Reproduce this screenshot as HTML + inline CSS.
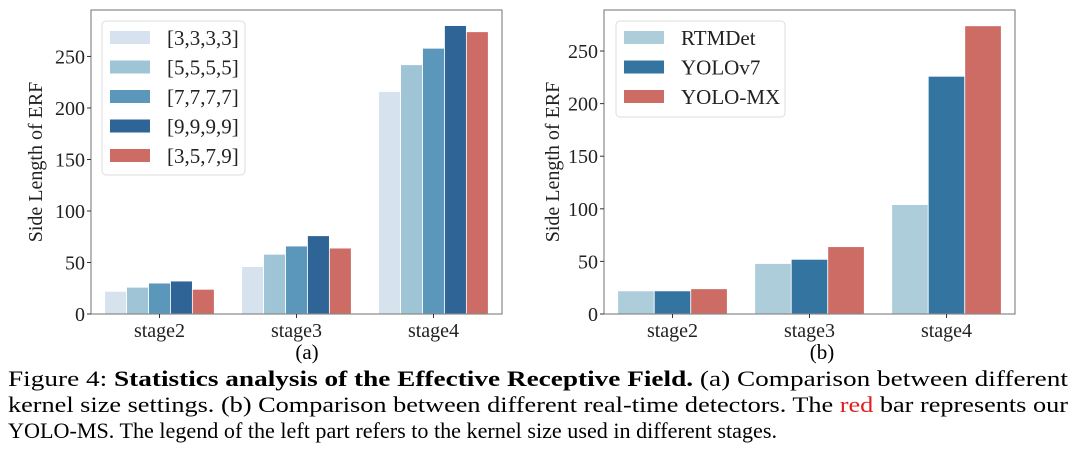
<!DOCTYPE html>
<html><head><meta charset="utf-8">
<style>
html,body{margin:0;padding:0;background:#fff;}
svg{display:block;font-family:"Liberation Serif","Times New Roman",serif;}
</style></head>
<body>
<svg id="fig" width="1080" height="460" viewBox="0 0 1080 460">
<g id="chartA"></g>
<g id="chartB"></g>
<text x="307" y="359" font-size="21" text-anchor="middle">(a)</text>
<text x="822" y="359" font-size="21" text-anchor="middle">(b)</text>
<text x="8" y="386" font-size="22" textLength="1060" lengthAdjust="spacingAndGlyphs">Figure 4:  <tspan font-weight="bold">Statistics analysis of the Effective Receptive Field.</tspan> (a) Comparison between different</text>
<text x="8" y="412" font-size="22" textLength="1060" lengthAdjust="spacingAndGlyphs">kernel size settings. (b) Comparison between different real-time detectors. The <tspan fill="#e02020">red</tspan> bar represents our</text>
<text x="8" y="438" font-size="22" textLength="769" lengthAdjust="spacingAndGlyphs">YOLO-MS. The legend of the left part refers to the kernel size used in different stages.</text>
</svg>
<script>
const categories = ["stage2","stage3","stage4"];
const seriesNamesA = ["[3,3,3,3]","[5,5,5,5]","[7,7,7,7]","[9,9,9,9]","[3,5,7,9]"];
const s333 = [22,46,216];
const s555 = [26,58,242];
const s777 = [30,66,258];
const s999 = [32,76,280];
const s3579 = [24,64,274];
const seriesNamesB = ["RTMDet","YOLOv7","YOLO-MX"];
const rtmdet = [22,48,104];
const yolov7 = [22,52,226];
const yolomx = [24,64,274];
const yTicks = [0,50,100,150,200,250];

const NS="http://www.w3.org/2000/svg";
function mk(tag,attrs,parent){const e=document.createElementNS(NS,tag);for(const k in attrs)e.setAttribute(k,attrs[k]);parent.appendChild(e);return e;}

function drawChart(g, cfg){
  const {x0,x1,y0,y1,ymax,series,colors,names,legend,ylabX,key}=cfg;
  const yS=v=>y1-(v/ymax)*(y1-y0);
  const bw=(x1-x0)/categories.length;
  const xS=i=>x0+bw*(i+0.5);
  const n=series.length, barW=bw*0.8/n;
  series.forEach((vals,si)=>{
    vals.forEach((v,ci)=>{
      const r=mk('rect',{x:xS(ci)-bw*0.4+si*barW,y:yS(v),width:barW,height:y1-yS(v),fill:colors[si],stroke:'#fff','stroke-width':0.8},g);
      
      
    });
  });
  const frame=mk('rect',{x:x0,y:y0,width:x1-x0,height:y1-y0,fill:'none',stroke:'#888','stroke-width':1.2},g);
  
  
  yTicks.forEach(t=>{
    mk('line',{x1:x0-4,x2:x0,y1:yS(t),y2:yS(t),stroke:'#333'},g);
    const tx=mk('text',{x:x0-6,y:yS(t)+7,'font-size':20,'text-anchor':'end',fill:'#222'},g);
    tx.textContent=t;
    
    
  });
  categories.forEach((c,i)=>{
    mk('line',{x1:xS(i),x2:xS(i),y1:y1,y2:y1+4,stroke:'#333'},g);
    const tx=mk('text',{x:xS(i),y:y1+23,'font-size':20,'text-anchor':'middle',fill:'#222'},g);
    tx.textContent=c;
    
    
  });
  const yl=mk('text',{x:ylabX,y:(y0+y1)/2,'font-size':20,'text-anchor':'middle',fill:'#222',transform:`rotate(-90 ${ylabX} ${(y0+y1)/2})`},g);
  yl.textContent='Side Length of ERF';
  
  
  const lg=mk('g',{},g);
  
  
  mk('rect',{x:legend.x,y:legend.y,width:legend.w,height:legend.h,rx:4,fill:'#fff',stroke:'#ddd'},lg);
  names.forEach((nm,i)=>{
    const cy=legend.y+16+i*29.5;
    const ent=mk('g',{},lg);
    
    
    mk('rect',{x:legend.x+8,y:cy-6,width:40,height:13,fill:colors[i]},ent);
    const t=mk('text',{x:legend.tx,y:cy+8,'font-size':21,fill:'#222'},ent);
    t.textContent=nm;
  });
}
drawChart(document.getElementById('chartA'),{x0:91,x1:502,y0:10,y1:314,ymax:295.1,series:[s333,s555,s777,s999,s3579],
  colors:['#d6e2ee','#9fc4d6','#5b96bb','#2e6496','#cd6b65'],names:seriesNamesA,
  legend:{x:102,y:21,w:143,h:154,tx:167},ylabX:42,key:'a'});
drawChart(document.getElementById('chartB'),{x0:604,x1:1015,y0:10,y1:314,ymax:289,series:[rtmdet,yolov7,yolomx],
  colors:['#aecdda','#3474a1','#cd6b65'],names:seriesNamesB,
  legend:{x:616,y:21,w:169,h:96,tx:681},ylabX:559,key:'b'});
</script>
</body></html>
